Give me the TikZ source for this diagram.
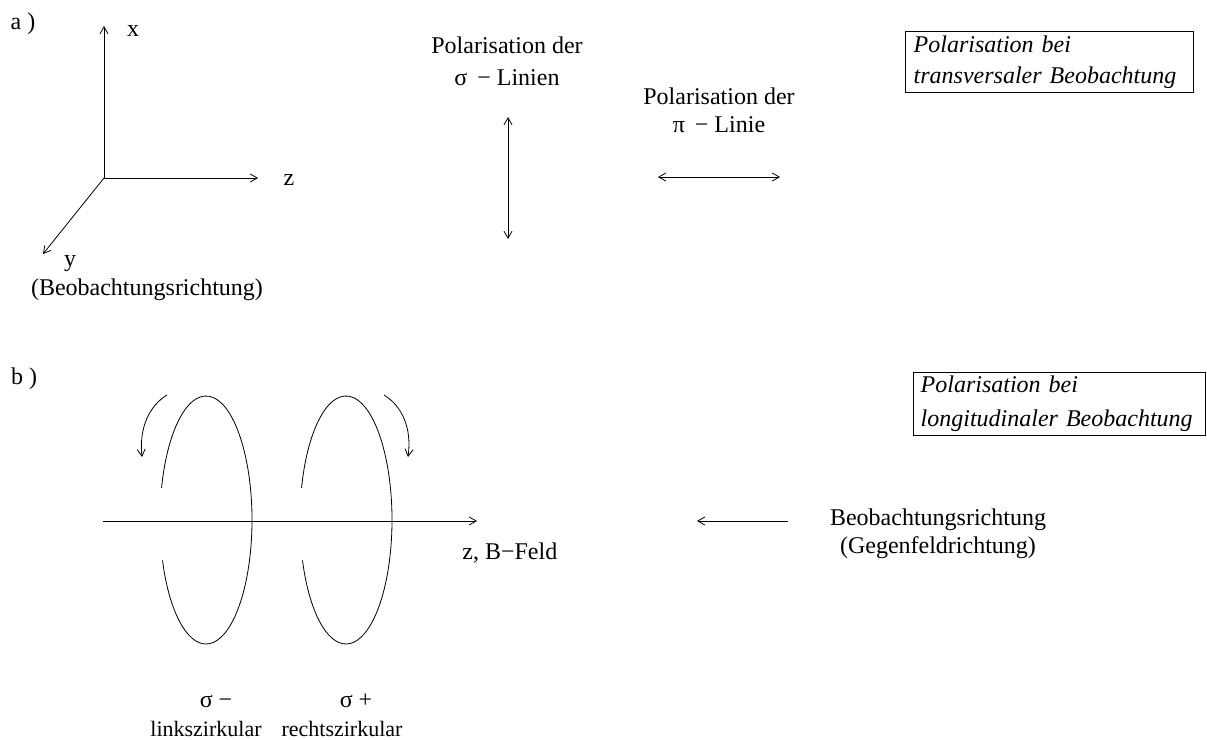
\documentclass[tikz,border=0pt]{standalone}
\usepackage{fontspec}
\setmainfont{Liberation Serif}
\usetikzlibrary{positioning,arrows.meta}

\begin{document}
\begin{tikzpicture}[x=0.5pt,y=-0.5pt,>={Straight Barb[length=3.5pt,width=4pt]},
    lbl/.style={font=\fontsize{12}{14}\selectfont,inner sep=0pt,align=center},
    infobox/.style={draw,line width=0.7pt,font=\fontsize{12}{15.5}\selectfont\itshape,
        align=left,anchor=north west,inner ysep=0pt}]
        \useasboundingbox (0,0) rectangle (1207,740);
        % a) transversal
        \node[lbl] (alab) at (23,24) {a )};
        \coordinate (orig) at (104,178);
        \coordinate (xend) at (104,26);
        \coordinate (zend) at (258,178);
        \coordinate (yend) at (43,254);
        \draw[->] (orig) -- (xend);
        \draw[->] (orig) -- (zend);
        \draw[->] (orig) -- (yend);
        \node[lbl] (xlab) at (133,31) {x};
        \node[lbl] (zlab) at (289,180) {z};
        \node[lbl] (ylab) at (70,264) {y};
        \node[lbl] (ydir) at (147,290) {(Beobachtungsrichtung)};
        \node[lbl,font=\fontsize{12}{16}\selectfont] (siglab) at (507,61) {Polarisation der\\σ \,− Linien};
        \coordinate (sigtop) at (508,117);
        \coordinate (sigbot) at (508,239);
        \draw[<->] (sigtop) -- (sigbot);
        \node[lbl] (pilab) at (719,110) {Polarisation der\\π \,− Linie};
        \coordinate (pileft) at (658,177);
        \coordinate (piright) at (780,177);
        \draw[<->] (pileft) -- (piright);
        \node[infobox,inner xsep=4pt,text width=136pt,minimum height=30.5pt] (trbox) at (905,31)
            {Polarisation bei\\transversaler Beobachtung};
        % b) longitudinal
        \node[lbl] (blab) at (24,379) {b )};
        \node[infobox,inner xsep=3.5pt,text width=139pt,minimum height=31.5pt,
            font=\fontsize{12}{17}\selectfont\itshape] (lobox) at (913,372)
            {Polarisation bei\\longitudinaler Beobachtung};
        \coordinate (zstart) at (103,521);
        \coordinate (zfeld) at (477,521);
        \draw[->] (zstart) -- (zfeld);
        \node[lbl,anchor=west] (zflab) at (462,553) {z, B−Feld};
        \coordinate (lc) at (206,520);
        \coordinate (rc) at (346,520);
        \foreach \c in {lc,rc} {
            \draw (\c) ++(195:46 and 124) arc[start angle=195,end angle=450,x radius=46,y radius=124];
            \draw (\c) ++(90:46 and 124) arc[start angle=90,end angle=161,x radius=46,y radius=124];
        }
        \coordinate (rotla) at (167,395);
        \coordinate (rotlb) at (142,457);
        \draw[->] (rotla) .. controls (149,406) and (139,428) .. (rotlb);
        \coordinate (rotra) at (384,395);
        \coordinate (rotrb) at (408,457);
        \draw[->] (rotra) .. controls (402,406) and (412,428) .. (rotrb);
        \node[lbl] (obsdir) at (938,534) {Beobachtungsrichtung\\(Gegenfeldrichtung)};
        \coordinate (obsend) at (697,521);
        \coordinate (obsstart) at (788,521);
        \draw[->] (obsstart) -- (obsend);
        \node[lbl] (sigm) at (216,701) {σ −};
        \node[lbl] (sigp) at (356,701) {σ +};
        \node[lbl,font=\fontsize{11}{13}\selectfont] (links) at (206,729) {linkszirkular};
        \node[lbl,font=\fontsize{11}{13}\selectfont] (rechts) at (342,729) {rechtszirkular};
\end{tikzpicture}
\end{document}
